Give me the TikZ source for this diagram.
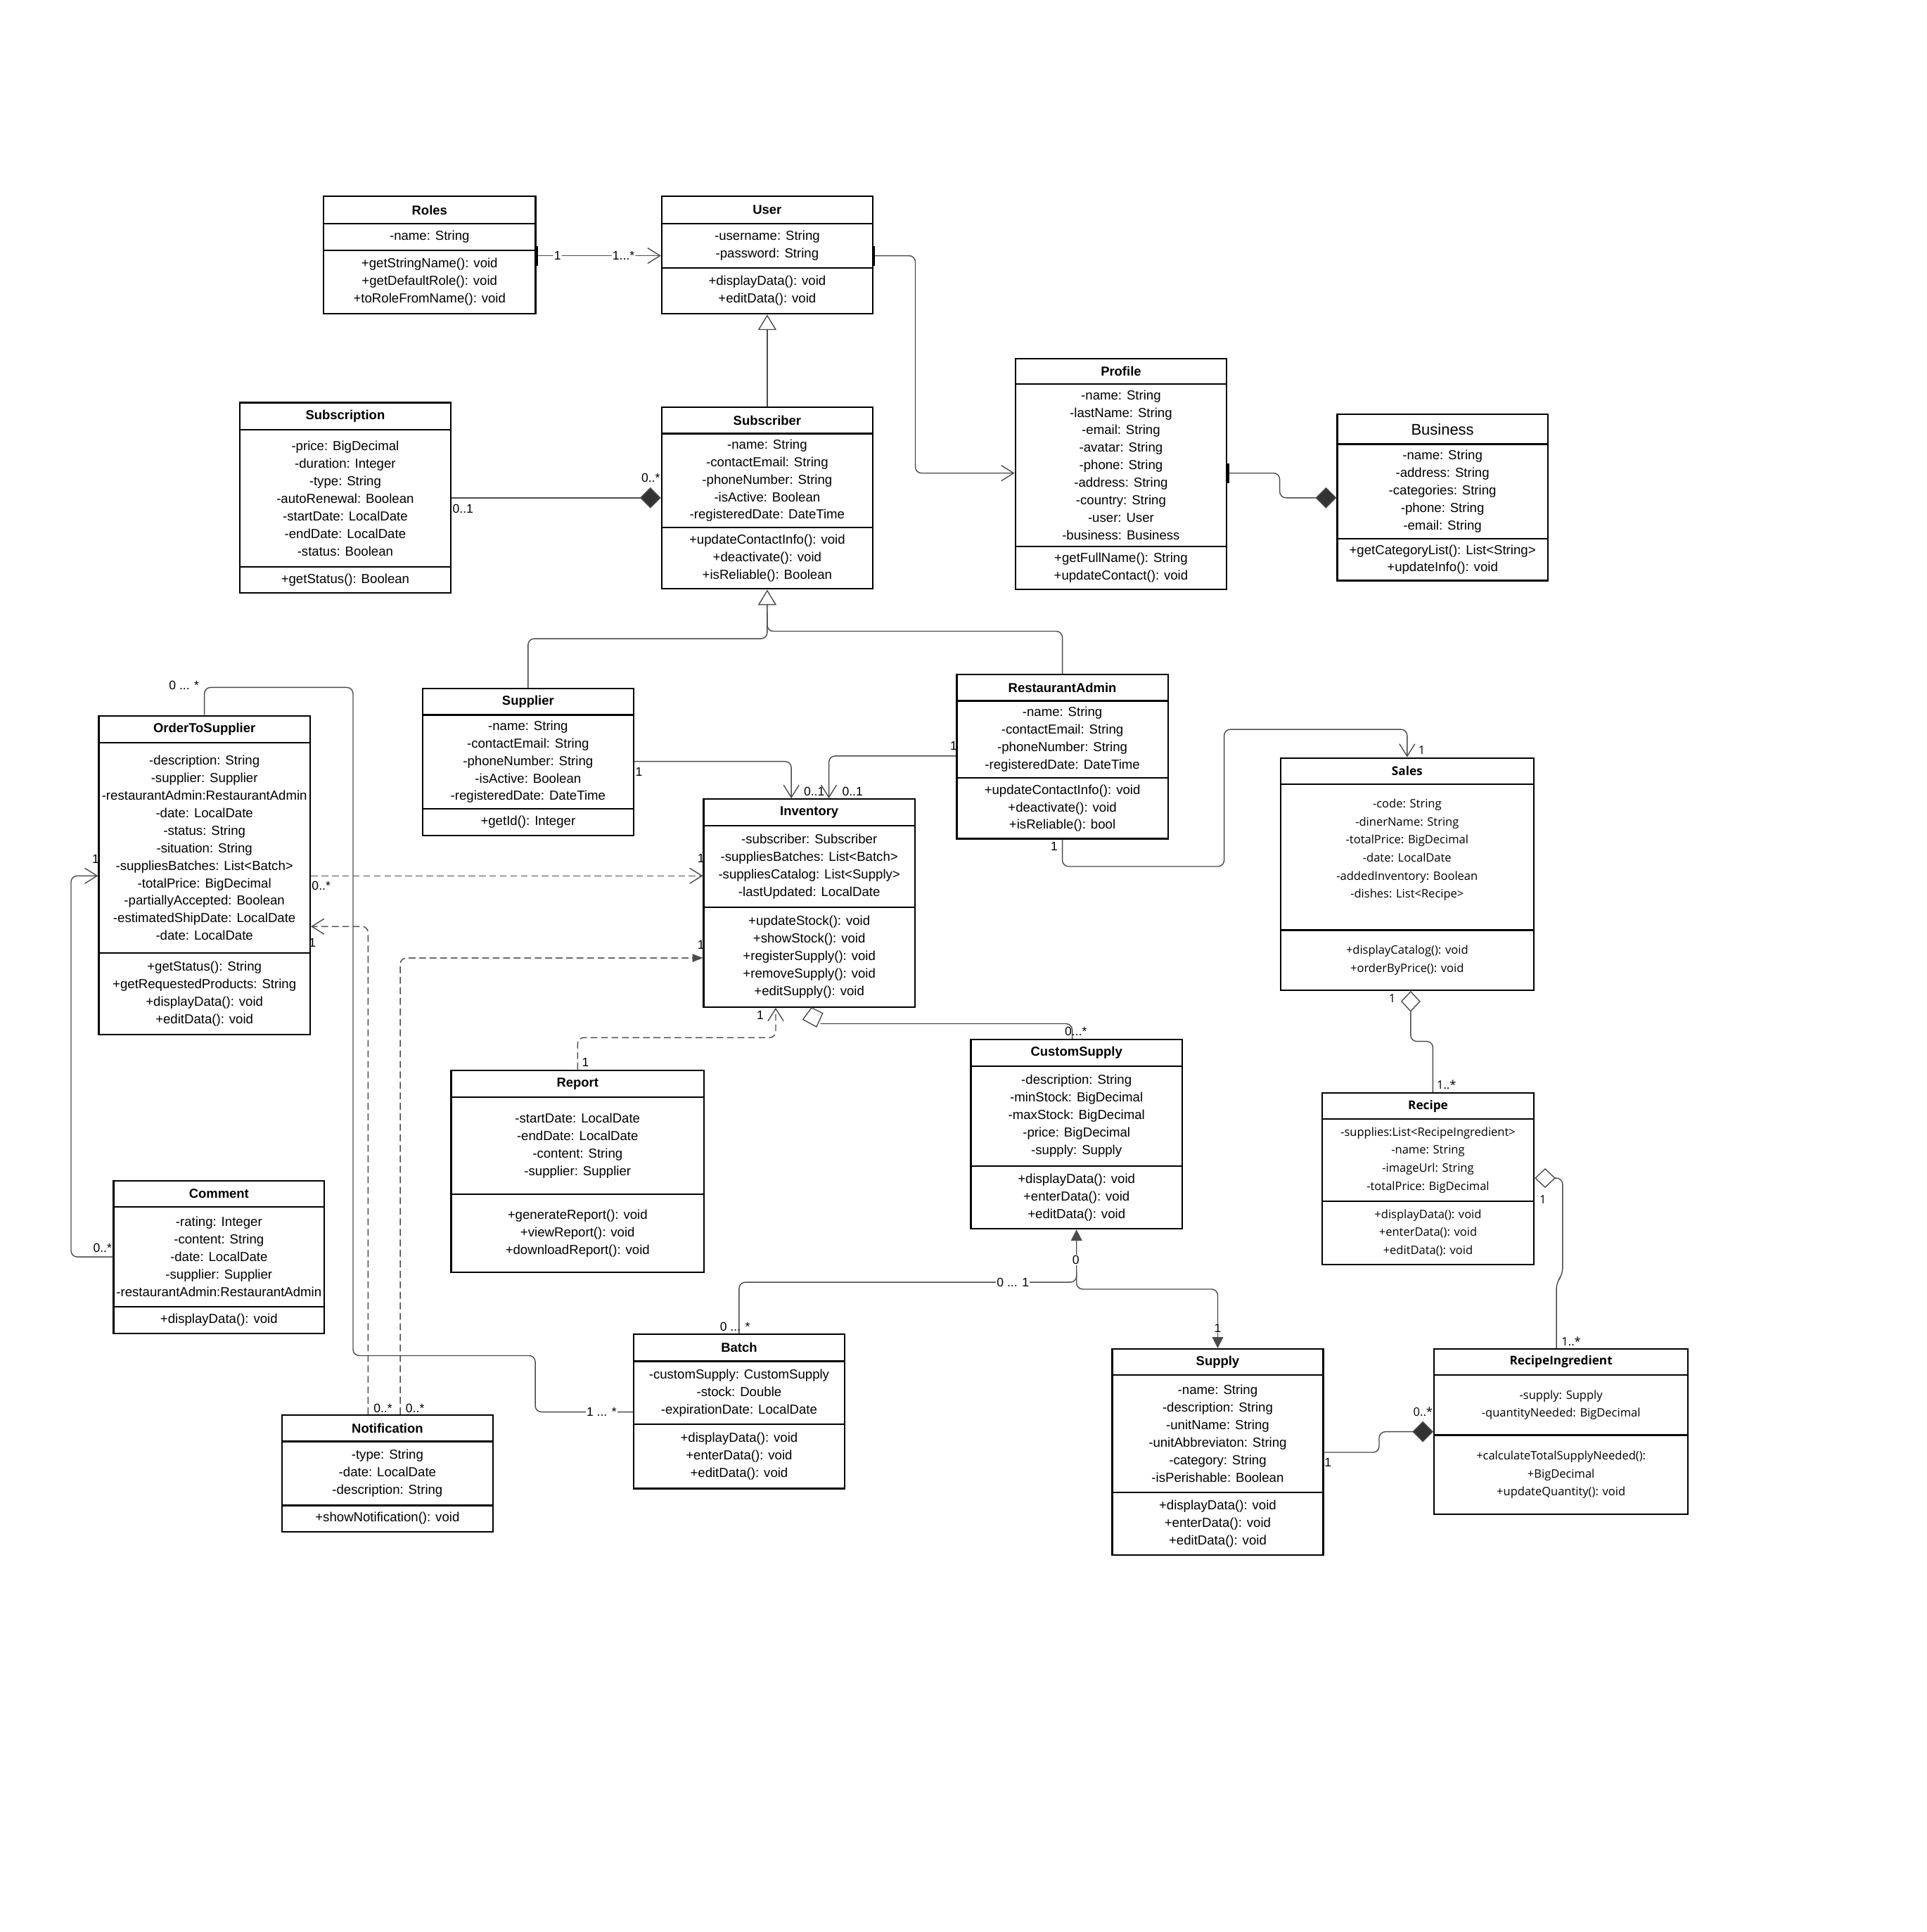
\documentclass[tikz,border=0pt]{standalone}
\usepackage{fontspec}
\setmainfont{Liberation Sans}
\newfontfamily\widesans{Open Sans}
\usepackage{tikz}
\usetikzlibrary{arrows.meta, positioning, fit, calc}

% class box: name, left, top, right, bottom, title line, member line, title
\newcommand{\umlclass}[8]{%
    \node[classframe, fit={(#2,#3) (#4,#5)}] (#1) {};
    \draw[classsep] (#2,#6) -- (#4,#6) (#2,#7) -- (#4,#7);
    \node[classtitle] (#1-title) at ({(#2+#4)/2},{(#3+#6)/2}) {#8};
    \coordinate (#1-ac) at ({(#2+#4)/2},{(#6+#7)/2});
    \coordinate (#1-mc) at ({(#2+#4)/2},{(#7+#5)/2});
}

\begin{document}
\begin{tikzpicture}[x=1pt, y=-1pt,
    classframe/.style={draw=black, line width=1.3pt, inner sep=0pt},
    classsep/.style={line width=1.3pt},
    classtitle/.style={inner sep=0pt, font=\fontsize{10.5}{12}\selectfont\bfseries},
    members/.style={align=center, inner sep=0pt, font=\fontsize{10.6}{14.2}\selectfont},
    widemembers/.style={align=center, inner sep=0pt, font=\widesans\fontsize{9.4}{14.6}\selectfont},
    assoc/.style={draw=linegray, line width=0.8pt, rounded corners=5pt},
    dep/.style={assoc, dash pattern=on 5.5pt off 3pt},
    mult/.style={inner sep=0.6pt, font=\fontsize{10}{12}\selectfont},
    widemult/.style={inner sep=0.6pt, font=\widesans\fontsize{9.4}{12}\selectfont},
    onmult/.style={mult, fill=white},
    endbar/.style={draw=black, line width=2.6pt},
    navtip/.tip={Straight Barb[length=10pt, width=12.5pt]},
    gentip/.tip={Triangle[open, length=12.5pt, width=15pt]},
    soltip/.tip={Triangle[length=9pt, width=9pt]},
    smalltip/.tip={Triangle[length=8.5pt, width=6.5pt]},
    comptip/.tip={Diamond[length=17pt, width=17pt, fill=diamondfill]},
    aggtip/.tip={Diamond[open, length=17pt, width=16pt]}]

    % Define colors
    \definecolor{linegray}{RGB}{75,75,75}
    \definecolor{diamondfill}{RGB}{51,51,51}

    \useasboundingbox (0,0) rectangle (1560,1564);

    % Classes
    \umlclass{roles}{262}{159}{433.5}{254}{181}{202.5}{Roles}
    \node[members] (roles-attrs) at (roles-ac) {-name: String};
    \node[members] (roles-meths) at (roles-mc) {+getStringName(): void\\+getDefaultRole(): void\\+toRoleFromName(): void};

    \umlclass{user}{535.7}{159}{706.5}{254}{181}{217}{User}
    \node[members] (user-attrs) at (user-ac) {-username: String\\-password: String};
    \node[members] (user-meths) at (user-mc) {+displayData(): void\\+editData(): void};

    \umlclass{subscription}{194}{326}{365}{480}{348}{459}{Subscription}
    \node[members] (subscription-attrs) at (subscription-ac) {-price: BigDecimal\\-duration: Integer\\-type: String\\-autoRenewal: Boolean\\-startDate: LocalDate\\-endDate: LocalDate\\-status: Boolean};
    \node[members] (subscription-meths) at (subscription-mc) {+getStatus(): Boolean};

    \umlclass{subscriber}{535.7}{329.5}{706.5}{476.7}{351}{427}{Subscriber}
    \node[members] (subscriber-attrs) at (subscriber-ac) {-name: String\\-contactEmail: String\\-phoneNumber: String\\-isActive: Boolean\\-registeredDate: DateTime};
    \node[members] (subscriber-meths) at (subscriber-mc) {+updateContactInfo(): void\\+deactivate(): void\\+isReliable(): Boolean};

    \umlclass{profile}{822}{290.5}{993}{477.3}{310.7}{442.2}{Profile}
    \node[members] (profile-attrs) at (profile-ac) {-name: String\\-lastName: String\\-email: String\\-avatar: String\\-phone: String\\-address: String\\-country: String\\-user: User\\-business: Business};
    \node[members] (profile-meths) at (profile-mc) {+getFullName(): String\\+updateContact(): void};

    \umlclass{business}{1082.6}{335.5}{1253}{470}{359.6}{436}{\mdseries\fontsize{12.5}{14}\selectfont Business}
    \node[members] (business-attrs) at (business-ac) {-name: String\\-address: String\\-categories: String\\-phone: String\\-email: String};
    \node[members] (business-meths) at (business-mc) {+getCategoryList(): List<String>\\+updateInfo(): void};

    \umlclass{supplier}{342}{557.5}{513}{676.3}{578.8}{654.7}{Supplier}
    \node[members] (supplier-attrs) at (supplier-ac) {-name: String\\-contactEmail: String\\-phoneNumber: String\\-isActive: Boolean\\-registeredDate: DateTime};
    \node[members] (supplier-meths) at (supplier-mc) {+getId(): Integer};

    \umlclass{restadmin}{774.6}{546}{945.5}{678.9}{567.4}{629.7}{RestaurantAdmin}
    \node[members] (restadmin-attrs) at (restadmin-ac) {-name: String\\-contactEmail: String\\-phoneNumber: String\\-registeredDate: DateTime};
    \node[members] (restadmin-meths) at (restadmin-mc) {+updateContactInfo(): void\\+deactivate(): void\\+isReliable(): bool};

    \umlclass{order}{80}{579.4}{251}{837.4}{601.2}{771.5}{OrderToSupplier}
    \node[members] (order-attrs) at (order-ac) {-description: String\\-supplier: Supplier\\-restaurantAdmin:RestaurantAdmin\\-date: LocalDate\\-status: String\\-situation: String\\-suppliesBatches: List<Batch>\\-totalPrice: BigDecimal\\-partiallyAccepted: Boolean\\-estimatedShipDate: LocalDate\\-date: LocalDate};
    \node[members] (order-meths) at (order-mc) {+getStatus(): String\\+getRequestedProducts: String\\+displayData(): void\\+editData(): void};

    \umlclass{inventory}{569.7}{646.9}{740.6}{815.1}{668.3}{734.5}{Inventory}
    \node[members] (inventory-attrs) at (inventory-ac) {-subscriber: Subscriber\\-suppliesBatches: List<Batch>\\-suppliesCatalog: List<Supply>\\-lastUpdated: LocalDate};
    \node[members] (inventory-meths) at (inventory-mc) {+updateStock(): void\\+showStock(): void\\+registerSupply(): void\\+removeSupply(): void\\+editSupply(): void};

    \umlclass{sales}{1036.6}{613.6}{1241.7}{801.5}{635}{753}{\widesans\fontsize{9.8}{12}\selectfont Sales}
    \node[widemembers] (sales-attrs) at (sales-ac |- 0,688) {-code: String\\-dinerName: String\\-totalPrice: BigDecimal\\-date: LocalDate\\-addedInventory: Boolean\\-dishes: List<Recipe>};
    \node[widemembers] (sales-meths) at (sales-mc) {+displayCatalog(): void\\+orderByPrice(): void};

    \umlclass{recipe}{1070.4}{884.8}{1241.7}{1023.7}{905.9}{972.3}{\widesans\fontsize{9.8}{12}\selectfont Recipe}
    \node[widemembers] (recipe-attrs) at (recipe-ac) {-supplies:List<RecipeIngredient>\\-name: String\\-imageUrl: String\\-totalPrice: BigDecimal};
    \node[widemembers] (recipe-meths) at (recipe-mc) {+displayData(): void\\+enterData(): void\\+editData(): void};

    \umlclass{report}{365.2}{866.4}{570}{1029.9}{888.2}{966.6}{Report}
    \node[members] (report-attrs) at (report-ac) {-startDate: LocalDate\\-endDate: LocalDate\\-content: String\\-supplier: Supplier};
    \node[members] (report-meths) at (report-mc) {+generateReport(): void\\+viewReport(): void\\+downloadReport(): void};

    \umlclass{customsupply}{786}{841.5}{957}{994.7}{863}{944}{CustomSupply}
    \node[members] (customsupply-attrs) at (customsupply-ac) {-description: String\\-minStock: BigDecimal\\-maxStock: BigDecimal\\-price: BigDecimal\\-supply: Supply};
    \node[members] (customsupply-meths) at (customsupply-mc) {+displayData(): void\\+enterData(): void\\+editData(): void};

    \umlclass{comment}{92}{955.8}{262.5}{1079.5}{977}{1057.9}{Comment}
    \node[members] (comment-attrs) at (comment-ac) {-rating: Integer\\-content: String\\-date: LocalDate\\-supplier: Supplier\\-restaurantAdmin:RestaurantAdmin};
    \node[members] (comment-meths) at (comment-mc) {+displayData(): void};

    \umlclass{batch}{513}{1080}{683.7}{1205}{1102}{1153}{Batch}
    \node[members] (batch-attrs) at (batch-ac) {-customSupply: CustomSupply\\-stock: Double\\-expirationDate: LocalDate};
    \node[members] (batch-meths) at (batch-mc) {+displayData(): void\\+enterData(): void\\+editData(): void};

    \umlclass{supply}{900.4}{1092}{1071.2}{1259}{1113}{1208}{Supply}
    \node[members] (supply-attrs) at (supply-ac) {-name: String\\-description: String\\-unitName: String\\-unitAbbreviaton: String\\-category: String\\-isPerishable: Boolean};
    \node[members] (supply-meths) at (supply-mc) {+displayData(): void\\+enterData(): void\\+editData(): void};

    \umlclass{ingredient}{1161}{1092}{1366.5}{1225.8}{1113}{1161.7}{\widesans\fontsize{9.8}{12}\selectfont RecipeIngredient}
    \node[widemembers] (ingredient-attrs) at (ingredient-ac) {-supply: Supply\\-quantityNeeded: BigDecimal};
    \node[widemembers] (ingredient-meths) at (ingredient-mc) {+calculateTotalSupplyNeeded():\\+BigDecimal\\+updateQuantity(): void};

    \umlclass{notification}{228.3}{1145.5}{399}{1240}{1166.9}{1218.6}{Notification}
    \node[members] (notification-attrs) at (notification-ac) {-type: String\\-date: LocalDate\\-description: String};
    \node[members] (notification-meths) at (notification-mc) {+showNotification(): void};

    % Roles -- User
    \draw[assoc, -{navtip}] (roles.east |- 0,207) -- node[onmult, pos=0.17] {1} node[onmult, pos=0.70] {1...*} (user.west |- 0,207);
    \draw[endbar] (roles.east |- 0,199) -- (roles.east |- 0,215);

    % User -- Profile
    \draw[assoc, -{navtip}] (user.east |- 0,207) -- (741,207) -- (741,383) -- (profile.west |- 0,383);
    \draw[endbar] (user.east |- 0,199) -- (user.east |- 0,215);

    % Profile -- Business
    \draw[assoc, -{comptip}] (profile.east |- 0,383) -- (1036,383) -- (1036,403) -- (business.west |- 0,403);
    \draw[endbar] (profile.east |- 0,375) -- (profile.east |- 0,391);

    % Subscription -- Subscriber
    \draw[assoc, -{comptip}] (subscription.east |- 0,403) -- (subscriber.west |- 0,403);
    \node[mult, anchor=west] at (subscription.east |- 0,412) {0..1};
    \node[mult, anchor=east] at (subscriber.west |- 0,387) {0..*};

    % Generalisation
    \draw[assoc, -{gentip}] (subscriber.north) -- (user.south);
    \draw[assoc, -{gentip}] (supplier.north) |- (subscriber.south |- 0,517) -- (subscriber.south);
    \draw[assoc] (restadmin.north) |- (subscriber.south |- 0,511) -- (subscriber.south |- 0,496);

    % Supplier, RestaurantAdmin -> Inventory
    \draw[assoc, -{navtip}] (supplier.east |- 0,616.4) -| (inventory.north -| 640.6,0);
    \node[mult, anchor=west] at (supplier.east |- 0,625) {1};
    \node[mult, anchor=west] at (650,641) {0..1};
    \draw[assoc, -{navtip}] (restadmin.west |- 0,612) -| (inventory.north -| 671,0);
    \node[mult] at (772,604) {1};
    \node[mult, anchor=west] at (681,641) {0..1};

    % RestaurantAdmin -> Sales
    \draw[assoc, -{navtip}] (restadmin.south) |- (991,701.4) |- (sales.north |- 0,590.5) -- (sales.north);
    \node[mult] at (853.5,685) {1};
    \node[widemult] at (1151,607.5) {1};

    % OrderToSupplier -- Batch
    \draw[assoc] (order.north) |- (285.8,556.5) |- (433.3,1097.4) |- (batch.west |- 0,1143);
    \node[mult] at (149,555) {0 ... *};
    \node[onmult] at (487,1143) {1 ... *};

    % OrderToSupplier -> Inventory
    \draw[dep, -{navtip}] (order.east |- 0,709) -- (inventory.west |- 0,709);
    \node[mult] at (260,717) {0..*};
    \node[mult] at (567.5,695) {1};

    % Notification -> OrderToSupplier, Inventory
    \draw[dep, -{navtip}] (notification.north -| 298,0) |- (order.east |- 0,750);
    \node[mult] at (253,763) {1};
    \node[mult] at (310,1140) {0..*};
    \draw[dep, -{smalltip}] (notification.north -| 324,0) |- (inventory.west |- 0,775.5);
    \node[mult] at (567.5,765) {1};
    \node[mult] at (336,1140) {0..*};

    % Report -> Inventory
    \draw[dep, -{navtip}] (report.north) |- (628,840) -- (inventory.south -| 628,0);
    \node[mult] at (474,860) {1};
    \node[mult] at (615.5,822) {1};

    % Inventory <>-- CustomSupply
    \coordinate (invagg) at (inventory.south -| 657,0);
    \coordinate (invaggend) at (664,828.7);
    \draw[draw=linegray, line width=0.8pt, fill=white] (invagg) -- ++(9,4.5) -- ++(-5,11) -- ++(-11,-6) -- cycle;
    \draw[assoc] (invaggend) -- (868,828.7) -- (customsupply.north -| 868,0);
    \node[mult] at (871,835) {0...*};

    % CustomSupply -- Batch, Supply
    \draw[assoc, {soltip}-] (customsupply.south) |- (batch.north |- 0,1038) -- (batch.north);
    \draw[assoc, -{soltip}] (customsupply.south |- 0,1030) |- (supply.north |- 0,1043.6) -- (supply.north);
    \node[onmult] at (871,1020) {0};
    \node[onmult] at (820,1038) {0 ... 1};
    \node[mult] at (595,1074) {0 ... *};
    \node[onmult] at (985.8,1075) {1};

    % Supply -- RecipeIngredient
    \draw[assoc, -{comptip}] (supply.east |- 0,1175.7) -- (1116.5,1175.7) -- (1116.5,1159) -- (ingredient.west |- 0,1159);
    \node[mult] at (1075,1184) {1};
    \node[widemult] at (1152,1143) {0..*};

    % Recipe <>-- RecipeIngredient
    \draw[assoc, {aggtip}-] (recipe.east |- 0,953.7) -- (1265,953.7) -- (1265,1032) -- (1260,1038) -- (ingredient.north -| 1260,0);
    \node[widemult] at (1249,971) {1};
    \node[widemult] at (1272,1086) {1..*};

    % Sales <>-- Recipe
    \draw[assoc, {aggtip}-] (sales.south -| 1142,0) |- (1160,843) -- (recipe.north -| 1160,0);
    \node[widemult] at (1127,808) {1};
    \node[widemult] at (1171,878) {1..*};

    % Comment -> OrderToSupplier
    \draw[assoc, -{navtip}] (comment.west |- 0,1017.5) -| (57.5,709) -- (order.west |- 0,709);
    \node[mult] at (83,1010) {0..*};
    \node[mult] at (77.5,695.5) {1};

\end{tikzpicture}
\end{document}
